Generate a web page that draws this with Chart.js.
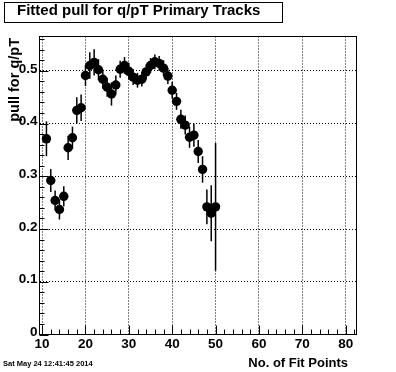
<!DOCTYPE html>
<html>
<head>
<meta charset="utf-8">
<script src="https://cdn.jsdelivr.net/npm/chart.js@4.4.0/dist/chart.umd.min.js"></script>
<style>
  html, body { margin: 0; padding: 0; background: #fff; }
  canvas { display: block; }
</style>
</head>
<body>
<canvas id="pull-chart" width="396" height="372"></canvas>
<script>
// --- data ---
const fitPoints = [11, 12, 13, 14, 15, 16, 17, 18, 19, 20,
                   21, 22, 23, 24, 25, 26, 27, 28, 29, 30,
                   31, 32, 33, 34, 35, 36, 37, 38, 39, 40,
                   41, 42, 43, 44, 45, 46, 47, 48, 49, 50];
const pullValues = [0.371, 0.292, 0.254, 0.237, 0.262, 0.354, 0.373, 0.425, 0.430, 0.491,
                    0.510, 0.516, 0.502, 0.484, 0.469, 0.456, 0.473, 0.503, 0.510, 0.499,
                    0.488, 0.482, 0.484, 0.498, 0.510, 0.517, 0.514, 0.505, 0.490, 0.463,
                    0.442, 0.408, 0.397, 0.374, 0.378, 0.347, 0.313, 0.242, 0.230, 0.242];
const pullErrors = [0.033, 0.022, 0.019, 0.019, 0.019, 0.023, 0.021, 0.025, 0.025, 0.020,
                    0.025, 0.025, 0.020, 0.018, 0.018, 0.022, 0.018, 0.016, 0.016, 0.016,
                    0.015, 0.014, 0.014, 0.014, 0.014, 0.014, 0.014, 0.015, 0.015, 0.016,
                    0.016, 0.018, 0.018, 0.020, 0.022, 0.022, 0.025, 0.033, 0.053, 0.121];
const xTickValues = [10, 20, 30, 40, 50, 60, 70, 80];
const yTickValues = [0, 0.1, 0.2, 0.3, 0.4, 0.5];

const FONT = "'Liberation Sans', Arial, Helvetica, sans-serif";

// vertical error bars, drawn under the markers
const errorBars = {
    id: 'errorBars',
    beforeDatasetsDraw(chart) {
        const { ctx, scales: { x, y } } = chart;
        ctx.save();
        ctx.strokeStyle = '#000';
        ctx.lineWidth = 1.5;
        fitPoints.forEach((n, i) => {
            const px = x.getPixelForValue(n);
            ctx.beginPath();
            ctx.moveTo(px, y.getPixelForValue(pullValues[i] - pullErrors[i]));
            ctx.lineTo(px, y.getPixelForValue(pullValues[i] + pullErrors[i]));
            ctx.stroke();
        });
        ctx.restore();
    }
};

// ROOT style frame, inward ticks and the loose texts
const rootFrame = {
    id: 'rootFrame',
    afterDraw(chart) {
        const { ctx, chartArea: a, scales: { x, y } } = chart;
        ctx.save();
        ctx.strokeStyle = '#000';
        ctx.lineWidth = 1;
        ctx.strokeRect(a.left, a.top, a.right - a.left, a.bottom - a.top);

        ctx.beginPath();
        for (let v = 10; v <= 82; v += 2) {
            const px = Math.round(x.getPixelForValue(v)) + 0.5;
            const len = v % 10 === 0 ? 9 : 5;
            ctx.moveTo(px, a.bottom);
            ctx.lineTo(px, a.bottom - len);
        }
        for (let k = 0; k <= 28; k++) {
            const py = Math.round(y.getPixelForValue(k * 0.02)) + 0.5;
            const len = k % 5 === 0 ? 9 : 5;
            ctx.moveTo(a.left, py);
            ctx.lineTo(a.left + len, py);
        }
        ctx.stroke();

        // title box
        ctx.strokeRect(4.5, 2.5, 278, 20);
        ctx.fillStyle = '#000';
        ctx.textAlign = 'left';
        ctx.textBaseline = 'alphabetic';
        ctx.font = 'bold 15px ' + FONT;
        ctx.fillText('Fitted pull for q/pT Primary Tracks', 17, 15);

        // x axis title
        ctx.textAlign = 'right';
        ctx.font = 'bold 13px ' + FONT;
        ctx.fillText('No. of Fit Points', 348, 367);

        // y axis title
        ctx.save();
        ctx.translate(18.5, 38);
        ctx.rotate(-Math.PI / 2);
        ctx.textAlign = 'right';
        ctx.font = 'bold 14.5px ' + FONT;
        ctx.fillText('pull for q/pT', 0, 0);
        ctx.restore();

        // date stamp
        ctx.textAlign = 'left';
        ctx.font = 'bold 7.5px ' + FONT;
        ctx.fillText('Sat May 24 12:41:45 2014', 3, 365.5);
        ctx.restore();
    }
};

new Chart(document.getElementById('pull-chart'), {
    type: 'scatter',
    data: {
        datasets: [{
            data: fitPoints.map((n, i) => ({ x: n, y: pullValues[i] })),
            backgroundColor: '#000',
            borderWidth: 0,
            pointRadius: 4.7,
            pointHoverRadius: 4.7
        }]
    },
    options: {
        responsive: false,
        animation: false,
        devicePixelRatio: 1,
        layout: { padding: { top: 36.5, right: 39.5, left: 0, bottom: 0 } },
        plugins: { legend: { display: false }, tooltip: { enabled: false } },
        scales: {
            x: {
                type: 'linear',
                min: 9.4,
                max: 82.5,
                afterBuildTicks: scale => { scale.ticks = xTickValues.map(v => ({ value: v })); },
                afterFit: scale => { scale.height = 37.5; },
                grid: { color: '#000', lineWidth: 1, drawTicks: false },
                border: { display: false, dash: [1, 2] },
                ticks: {
                    color: '#000',
                    font: { family: FONT, size: 13.5, weight: 'bold' },
                    padding: 2,
                    maxRotation: 0,
                    autoSkip: false,
                    callback: v => String(v)
                }
            },
            y: {
                type: 'linear',
                min: 0,
                max: 0.565,
                afterBuildTicks: scale => { scale.ticks = yTickValues.map(v => ({ value: v })); },
                afterFit: scale => { scale.width = 39.5; },
                grid: { color: '#000', lineWidth: 1, drawTicks: false },
                border: { display: false, dash: [1, 2] },
                ticks: {
                    color: '#000',
                    font: { family: FONT, size: 13.5, weight: 'bold' },
                    padding: 2,
                    labelOffset: -2,
                    autoSkip: false,
                    callback: v => (v === 0 ? '0' : v.toFixed(1))
                }
            }
        }
    },
    plugins: [errorBars, rootFrame]
});
</script>
</body>
</html>
